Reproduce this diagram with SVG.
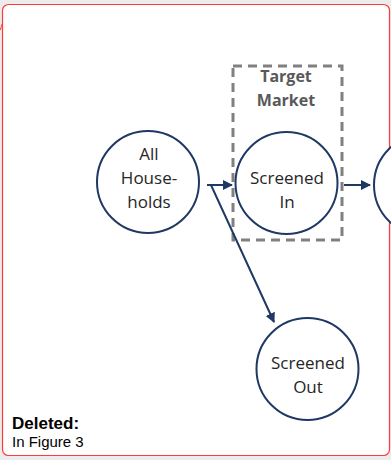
<svg xmlns="http://www.w3.org/2000/svg" width="391" height="460" viewBox="0 0 391 460">
<defs>
<style>
.node{fill:#fff;stroke:#1f3864;stroke-width:2}
.lbl{font-family:"Open Sans","Noto Sans",sans-serif;font-size:17px;fill:#262626;text-anchor:middle}
.tm{font-family:"Open Sans","Noto Sans",sans-serif;font-size:16px;font-weight:bold;fill:#595959;text-anchor:middle}
.conn{fill:none;stroke:#1f3864;stroke-width:2}
.note{font-family:"Liberation Sans",Arial,sans-serif;fill:#000}
</style>
<marker id="ah" viewBox="0 0 10 10" refX="9" refY="5" markerWidth="5" markerHeight="5" orient="auto" markerUnits="strokeWidth">
<path d="M0,0 L10,5 L0,10 z" fill="#1f3864"/>
</marker>
</defs>
<rect x="0" y="0" width="391" height="460" fill="#ececec"/>
<rect x="2.5" y="4.5" width="387" height="451" rx="6" fill="#fff" stroke="#ff3b3b" stroke-width="1.2"/>
<path d="M0.5,30 Q2,22 3,24" fill="none" stroke="#ff3b3b" stroke-width="1"/>
<g id="target-market">
<rect x="233" y="66" width="109" height="174" fill="none" stroke="#808080" stroke-width="3" stroke-dasharray="9,6"/>
<text class="tm" x="286" y="82">Target</text>
<text class="tm" x="286" y="106">Market</text>
</g>
<g id="connectors">
<path class="conn" d="M207,185 L232,185" marker-end="url(#ah)"/>
<path class="conn" d="M207,185 L211,185 L274,322" marker-end="url(#ah)"/>
<path class="conn" d="M344,185 L370,185" marker-end="url(#ah)"/>
</g>
<g id="all-households">
<circle class="node" cx="148" cy="182" r="51"/>
<text class="lbl" x="149" y="160">All</text>
<text class="lbl" x="149" y="184">House-</text>
<text class="lbl" x="149" y="208">holds</text>
</g>
<g id="screened-in">
<circle class="node" cx="286.5" cy="183" r="51"/>
<text class="lbl" x="287" y="184">Screened</text>
<text class="lbl" x="287" y="208">In</text>
</g>
<g id="next-node">
<circle class="node" cx="425" cy="185" r="51"/>
</g>
<g id="screened-out">
<circle class="node" cx="307.5" cy="369" r="51"/>
<text class="lbl" x="308" y="369">Screened</text>
<text class="lbl" x="308" y="393">Out</text>
</g>
<g id="note">
<text class="note" x="12" y="429" font-size="17" font-weight="bold">Deleted:</text>
<text class="note" x="12" y="447" font-size="15">In Figure 3</text>
</g>
</svg>
